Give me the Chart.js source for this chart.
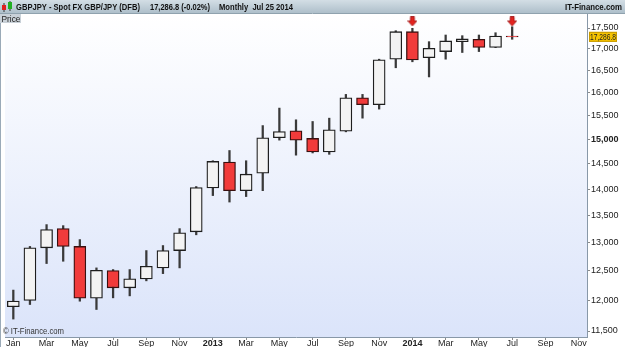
<!DOCTYPE html>
<html lang="en">
<head>
    <script src="https://cdn.jsdelivr.net/npm/chart.js@4.4.1/dist/chart.umd.min.js"></script>
    <title>GBPJPY Monthly</title>
    <style>
        html, body { margin: 0; padding: 0; background: #fff; }
        #wrap { width: 625px; height: 347px; }
    </style>
</head>
<body>
<div id="wrap"><canvas id="myChart"></canvas></div>
<script>
    const months = [
        "Jan 2012", "Feb 2012", "Mar 2012", "Apr 2012", "May 2012", "Jun 2012",
        "Jul 2012", "Aug 2012", "Sep 2012", "Oct 2012", "Nov 2012", "Dec 2012",
        "Jan 2013", "Feb 2013", "Mar 2013", "Apr 2013", "May 2013", "Jun 2013",
        "Jul 2013", "Aug 2013", "Sep 2013", "Oct 2013", "Nov 2013", "Dec 2013",
        "Jan 2014", "Feb 2014", "Mar 2014", "Apr 2014", "May 2014", "Jun 2014",
        "Jul 2014", "Aug 2014", "Sep 2014", "Oct 2014", "Nov 2014"
    ];
    const openP  = [11893, 11996, 12905, 13253, 12930, 12035, 12505, 12209, 12362, 12551, 12856, 13194,
                    14022, 14533, 13968, 14311, 15031, 15176, 15017, 14738, 15169, 15888, 15735, 16760,
                    17411, 16797, 16938, 17172, 17229, 17037, 17308];
    const highP  = [12171, 12930, 13327, 13308, 13053, 12551, 12522, 12522, 12856, 12946, 13253, 14049,
                    14560, 14768, 14560, 15287, 15662, 15410, 15374, 15445, 15962, 15962, 16760, 17435,
                    17493, 17172, 17331, 17315, 17331, 17386, 17531];
    const lowP   = [11692, 11930, 12627, 12667, 11985, 11848, 12041, 12074, 12328, 12452, 12551, 13140,
                    13874, 13750, 13855, 13968, 14982, 14673, 14718, 14690, 15155, 15445, 15640, 16562,
                    16700, 16353, 16760, 16916, 16938, 17030, 17229];
    const closeP = [11988, 12905, 13235, 12930, 12035, 12510, 12209, 12362, 12580, 12856, 13175, 14029,
                    14546, 13968, 14291, 15031, 15162, 14982, 14738, 15198, 15888, 15735, 16744, 17411,
                    16744, 17015, 17189, 17237, 17037, 17308, 17286.8];
    const signalMonths = ["Jan 2014", "Jul 2014"];
    const yTicks = [11500, 12000, 12500, 13000, 13500, 14000, 14500, 15000, 15500, 16000, 16500, 17000, 17500];
    const lastPrice = 17286.8;

    const FONT = "'Liberation Sans', Arial, sans-serif";
    const up = closeP.map((c, i) => c >= openP[i]);

    // little red "down" arrow used as point style
    const arrow = document.createElement("canvas");
    arrow.width = 10; arrow.height = 10;
    (function () {
        const c = arrow.getContext("2d");
        c.fillStyle = "#e3241f";
        c.strokeStyle = "#a01010";
        c.lineWidth = 0.8;
        c.beginPath();
        c.moveTo(3, 0.5); c.lineTo(7, 0.5); c.lineTo(7, 4.5); c.lineTo(9.5, 4.5);
        c.lineTo(5, 9.5); c.lineTo(0.5, 4.5); c.lineTo(3, 4.5); c.closePath();
        c.fill(); c.stroke();
    })();

    const chromePlugin = {
        id: "chrome",
        beforeDraw(chart) {
            const {ctx, chartArea: a} = chart;
            ctx.save();
            ctx.fillStyle = "#fff";
            ctx.fillRect(0, 0, chart.width, chart.height);
            const g = ctx.createLinearGradient(0, a.top, 0, a.bottom);
            g.addColorStop(0, "#ffffff");
            g.addColorStop(1, "#dbe4fa");
            ctx.fillStyle = g;
            ctx.fillRect(a.left, a.top, a.right - a.left, a.bottom - a.top);
            ctx.strokeStyle = "#9aaab8";
            ctx.lineWidth = 1;
            ctx.beginPath();
            ctx.moveTo(0.5, a.top); ctx.lineTo(0.5, chart.height);
            ctx.stroke();
            ctx.fillStyle = "#333";
            ctx.font = "9px " + FONT;
            ctx.textBaseline = "alphabetic";
            ctx.fillText("\u00A9 IT-Finance.com", 3, a.bottom - 3, 61);
            ctx.restore();
        },
        afterDraw(chart) {
            const {ctx, chartArea: a} = chart;
            ctx.save();
            // header bar
            const hg = ctx.createLinearGradient(0, 0, 0, 13);
            hg.addColorStop(0, "#d3dee5");
            hg.addColorStop(1, "#aebfca");
            ctx.fillStyle = hg;
            ctx.fillRect(0, 0, chart.width, 13);
            ctx.strokeStyle = "#8fa2ae";
            ctx.beginPath(); ctx.moveTo(0, 13.5); ctx.lineTo(chart.width, 13.5); ctx.stroke();
            // tiny candle icon
            ctx.fillStyle = "#333"; ctx.fillRect(3.5, 3, 1, 9); ctx.fillRect(9.5, 1, 1, 10);
            ctx.fillStyle = "#e02020"; ctx.fillRect(2, 5, 4, 5);
            ctx.fillStyle = "#22b022"; ctx.fillRect(8, 2, 4, 7);

            ctx.fillStyle = "#111";
            ctx.font = "bold 9px " + FONT;
            ctx.textBaseline = "alphabetic";
            ctx.fillText("GBPJPY - Spot FX GBP/JPY (DFB)", 16, 10, 124);
            ctx.fillText("17,286.8 (-0.02%)", 150, 10, 60);
            ctx.fillText("Monthly  Jul 25 2014", 219, 10, 74);
            ctx.textAlign = "right";
            ctx.fillText("IT-Finance.com", 622, 10, 57);

            // Price tab
            ctx.textAlign = "left";
            ctx.fillStyle = "#c9d1d8";
            ctx.fillRect(0, 14, 21, 9);
            ctx.fillStyle = "#222";
            ctx.font = "8.5px " + FONT;
            ctx.fillText("Price", 1.5, 21.5, 19);

            // last price tag
            const y = chart.scales.y.getPixelForValue(lastPrice);
            ctx.fillStyle = "#f6c400";
            ctx.fillRect(a.right + 2, y - 5, 28, 10);
            ctx.strokeStyle = "#c79a00";
            ctx.strokeRect(a.right + 2.5, y - 4.5, 27, 9);
            ctx.fillStyle = "#222";
            ctx.font = "9px " + FONT;
            ctx.textBaseline = "middle";
            ctx.fillText(lastPrice.toLocaleString("en-US", {minimumFractionDigits: 1}), a.right + 3, y + 0.5, 26);
            ctx.restore();
        }
    };

    const chart = new Chart("myChart", {
        type: "bar",
        data: {
            labels: months,
            datasets: [
                {
                    type: "line",
                    data: months.map(m => signalMonths.includes(m) ? 17660 : null),
                    showLine: false,
                    pointStyle: arrow,
                    order: 0
                },
                {
                    data: openP.map((o, i) => [o, closeP[i]]),
                    backgroundColor: up.map(u => u ? "#f3f3f3" : "#f13b3b"),
                    borderColor: up.map(u => u ? "#1e1e1e" : "#3a1010"),
                    borderWidth: 1.3,
                    borderSkipped: false,
                    barThickness: 12,
                    grouped: false,
                    order: 1
                },
                {
                    data: lowP.map((l, i) => [l, highP[i]]),
                    backgroundColor: "#3a3a3a",
                    barThickness: 1.6,
                    grouped: false,
                    order: 2
                }
            ]
        },
        options: {
            responsive: true,
            maintainAspectRatio: false,
            animation: false,
            layout: {padding: {top: 14, left: 2, right: 0, bottom: 0}},
            plugins: {legend: {display: false}, tooltip: {enabled: false}},
            scales: {
                x: {
                    offset: true,
                    afterFit(s) { s.height = 10; },
                    grid: {
                        offset: false,
                        drawOnChartArea: false,
                        tickLength: 3,
                        color: c => c.index % 2 === 0 ? "#8a8a8a" : "rgba(0,0,0,0)"
                    },
                    border: {color: "#8898a8"},
                    ticks: {
                        autoSkip: false,
                        maxRotation: 0,
                        padding: -2,
                        color: "#222",
                        font: c => ({size: 9, family: FONT, weight: (c.index > 0 && c.index % 12 === 0) ? "bold" : "normal"}),
                        callback(v, i) {
                            if (i % 2) return "";
                            const [m, yr] = months[i].split(" ");
                            return m === "Jan" && i > 0 ? yr : m;
                        }
                    }
                },
                y: {
                    type: "logarithmic",
                    position: "right",
                    min: 11405,
                    max: 17843,
                    afterFit(s) { s.width = 38; },
                    afterBuildTicks(s) { s.ticks = yTicks.map(v => ({value: v})); },
                    grid: {drawOnChartArea: false, tickLength: 3, color: "#8a8a8a"},
                    border: {color: "#8898a8"},
                    ticks: {
                        padding: 1,
                        color: "#222",
                        font: c => ({size: 9, family: FONT, weight: c.tick && c.tick.value === 15000 ? "bold" : "normal"}),
                        callback: v => Number(v).toLocaleString("en-US")
                    }
                }
            }
        },
        plugins: [chromePlugin]
    });
</script>
</body>
</html>
